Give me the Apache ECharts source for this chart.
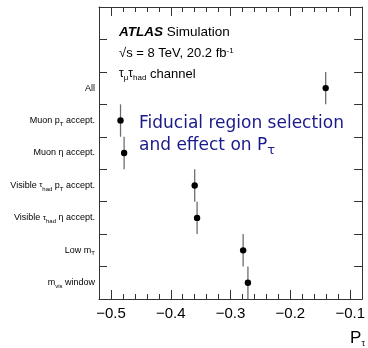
<!DOCTYPE html>
<html>
<head>
<meta charset="utf-8">
<script src="https://cdn.jsdelivr.net/npm/echarts@6/dist/echarts.min.js"></script>
<style>
  html, body { margin: 0; padding: 0; background: #fff; }
  #chart { width: 368px; height: 348px; }
</style>
</head>
<body>
<div id="chart"></div>
<script>
// Selection steps from top to bottom; the two blank rows keep room for the header text.
const steps = [
  '',
  ' ',
  'All',
  'Muon p{sub|T} accept.',
  'Muon η accept.',
  'Visible {tau|τ}{sub|had} p{sub|T} accept.',
  'Visible {tau|τ}{sub|had} η accept.',
  'Low m{sub|T}',
  'm{sub|vis} window'
];
// Mean tau polarisation after each selection step (null = empty row)
const polarisation = [null, null, -0.141, -0.484, -0.478, -0.360, -0.356, -0.279, -0.271];
// Labelled ticks of the polarisation axis
const majorTicks = [-0.5, -0.4, -0.3, -0.2, -0.1];

const FONT = '"Liberation Sans", Arial, Helvetica, sans-serif';
const BLUE_FONT = '"DejaVu Sans", sans-serif';
const AXIS_MIN = -0.52, AXIS_MAX = -0.08;
const frameColor = '#333';

const points = [];
polarisation.forEach((v, i) => { if (v !== null) points.push([v, i]); });

const labelRich = {
  sub: { fontSize: 6, lineHeight: 6, padding: [5, 0, 0, 0], verticalAlign: 'top', fontFamily: FONT, color: '#000' },
  tau: { fontSize: 8, lineHeight: 9, verticalAlign: 'top', fontFamily: FONT, color: '#000' }
};

function xAxisBase(position) {
  return {
    type: 'value', position: position, min: AXIS_MIN, max: AXIS_MAX,
    axisLine: { show: true, lineStyle: { color: frameColor, width: 1 } },
    splitLine: { show: false }
  };
}

const chart = echarts.init(document.getElementById('chart'), null, { renderer: 'canvas' });

chart.setOption({
  animation: false,
  backgroundColor: '#fff',
  grid: { left: 99, right: 4, top: 7, bottom: 49, containLabel: false },
  xAxis: [
    // bottom axis: minor ticks every 0.02
    Object.assign(xAxisBase('bottom'), {
      interval: 0.02,
      axisTick: { show: true, inside: true, length: 5, lineStyle: { color: frameColor } },
      axisLabel: { show: false }
    }),
    // bottom axis: labelled major ticks
    Object.assign(xAxisBase('bottom'), {
      axisLine: { show: false },
      axisTick: { show: true, inside: true, length: 9, customValues: majorTicks, lineStyle: { color: frameColor } },
      axisLabel: {
        show: true, customValues: majorTicks, margin: 7,
        fontSize: 15, fontFamily: FONT, color: '#000',
        formatter: v => String(Math.round(v * 10) / 10).replace('-', '\u2212')
      }
    }),
    // top mirror axis: minor ticks
    Object.assign(xAxisBase('top'), {
      interval: 0.02,
      axisTick: { show: true, inside: true, length: 5, lineStyle: { color: frameColor } },
      axisLabel: { show: false }
    }),
    // top mirror axis: major ticks
    Object.assign(xAxisBase('top'), {
      axisLine: { show: false },
      axisTick: { show: true, inside: true, length: 9, customValues: majorTicks, lineStyle: { color: frameColor } },
      axisLabel: { show: false }
    })
  ],
  yAxis: [
    {
      type: 'category', position: 'left', inverse: true, data: steps,
      axisLine: { show: true, lineStyle: { color: frameColor } },
      axisTick: { show: true, inside: true, length: 8, lineStyle: { color: frameColor } },
      axisLabel: {
        show: true, margin: 4, fontSize: 9, fontFamily: FONT, color: '#000',
        lineHeight: 9, verticalAlign: 'middle',
        formatter: v => v, rich: labelRich
      },
      splitLine: { show: false }
    },
    {
      type: 'category', position: 'right', inverse: true, data: steps,
      axisLine: { show: true, lineStyle: { color: frameColor } },
      axisTick: { show: true, inside: true, length: 8, lineStyle: { color: frameColor } },
      axisLabel: { show: false },
      splitLine: { show: false }
    }
  ],
  series: [{
    type: 'custom',
    xAxisIndex: 0,
    yAxisIndex: 0,
    data: points,
    clip: false,
    renderItem: function (params, api) {
      const c = api.coord([api.value(0), api.value(1)]);
      const band = api.size([0, 1])[1];
      return {
        type: 'group',
        children: [
          { type: 'line', shape: { x1: c[0], y1: c[1] - band / 2, x2: c[0], y2: c[1] + band / 2 },
            style: { stroke: '#6e6e6e', lineWidth: 1.3 } },
          { type: 'circle', shape: { cx: c[0], cy: c[1], r: 3.2 }, style: { fill: '#000' } }
        ]
      };
    }
  }],
  graphic: [
    {
      type: 'text', x: 119, y: 32, silent: true,
      style: {
        text: '{b|ATLAS} Simulation', fontSize: 13.5, fontFamily: FONT, fill: '#000', verticalAlign: 'middle',
        rich: { b: { fontSize: 13.5, fontFamily: FONT, fontWeight: 'bold', fontStyle: 'italic' } }
      }
    },
    {
      type: 'text', x: 119, y: 53, silent: true,
      style: {
        text: '{m|\u221As = 8 TeV, 20.2 fb}{sup|-1}', fill: '#000', verticalAlign: 'middle',
        rich: {
          m: { fontSize: 13, fontFamily: FONT, lineHeight: 13, verticalAlign: 'bottom' },
          sup: { fontSize: 8, fontFamily: FONT, lineHeight: 8, padding: [0, 0, 7, 0], verticalAlign: 'top' }
        }
      }
    },
    {
      type: 'text', x: 119, y: 74, silent: true,
      style: {
        text: '{t|τ}{s|μ}{t|τ}{s|had}{m| channel}', fill: '#000', verticalAlign: 'middle',
        rich: {
          t: { fontSize: 12, fontFamily: FONT, lineHeight: 12, verticalAlign: 'top' },
          m: { fontSize: 13, fontFamily: FONT, lineHeight: 13, verticalAlign: 'top' },
          s: { fontSize: 8, fontFamily: FONT, lineHeight: 8, padding: [6, 0, 0, 0], verticalAlign: 'top' }
        }
      }
    },
    {
      type: 'text', x: 139, y: 124, silent: true,
      style: {
        text: 'Fiducial region selection', fontSize: 17, fontFamily: BLUE_FONT,
        fill: '#1a1a8a', verticalAlign: 'middle'
      }
    },
    {
      type: 'text', x: 139, y: 146, silent: true,
      style: {
        text: '{m|and effect on P}{s|τ}', fill: '#1a1a8a', verticalAlign: 'middle',
        rich: {
          m: { fontSize: 17, fontFamily: BLUE_FONT, lineHeight: 17, verticalAlign: 'top' },
          s: { fontSize: 13, fontFamily: BLUE_FONT, lineHeight: 13, padding: [7, 0, 0, 0], verticalAlign: 'top' }
        }
      }
    },
    {
      type: 'text', x: 365, y: 338, silent: true,
      style: {
        text: '{m|P}{s|τ}', fill: '#000', align: 'right', verticalAlign: 'middle',
        rich: {
          m: { fontSize: 17, fontFamily: FONT, lineHeight: 17, verticalAlign: 'top' },
          s: { fontSize: 9, fontFamily: FONT, lineHeight: 9, padding: [10, 0, 0, 0], verticalAlign: 'top' }
        }
      }
    }
  ]
});
</script>
</body>
</html>
